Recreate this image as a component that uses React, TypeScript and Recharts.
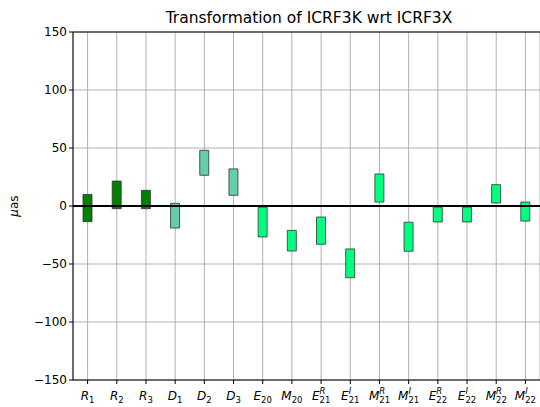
import React from 'react';
import { BarChart, Bar, Cell, XAxis, YAxis, CartesianGrid, ReferenceLine } from 'recharts';

// parameter names: main letter, subscript, superscript
const letters = ['R', 'R', 'R', 'D', 'D', 'D', 'E', 'M', 'E', 'E', 'M', 'M', 'E', 'E', 'M', 'M'];
const subs = ['1', '2', '3', '1', '2', '3', '20', '20', '21', '21', '21', '21', '22', '22', '22', '22'];
const sups = ['', '', '', '', '', '', '', '', 'R', 'I', 'R', 'I', 'R', 'I', 'R', 'I'];

// lower and upper ends of each box (µas)
const lows = [-13.5, -2.3, -2.3, -19, 26.5, 9.2, -26.7, -38.8, -33, -61.8, 3.4, -39, -13.8, -13.8, 2.6, -13];
const highs = [10, 21.5, 13.5, 2.3, 48, 32, -1.1, -21, -9.5, -37, 27.6, -14, -1, -1, 18.4, 3.4];

const colors = ['#008000', '#008000', '#008000', '#66cdaa', '#66cdaa', '#66cdaa',
  '#00ff7f', '#00ff7f', '#00ff7f', '#00ff7f', '#00ff7f', '#00ff7f', '#00ff7f', '#00ff7f', '#00ff7f', '#00ff7f'];

const yTicks = [-150, -100, -50, 0, 50, 100, 150];

const data = letters.map((l, i) => ({ name: String(i), range: [lows[i], highs[i]] }));

const FONT = 'DejaVu Sans, sans-serif';

const mainW: Record<string, number> = { R: 0.695, D: 0.77, E: 0.632, M: 0.863 };
const supW: Record<string, number> = { R: 0.695, I: 0.295, '': 0 };

const XTick = ({ x, y, payload }: any) => {
  const i = Number(payload.value);
  const l = letters[i];
  const sub = subs[i];
  const sup = sups[i];
  const fs = 12;
  const sfs = 8.5;
  const mw = mainW[l] * fs;
  const sw = sub.length * 0.636 * sfs;
  const pw = supW[sup] * sfs;
  const total = mw + Math.max(sw, pw);
  const x0 = x - total / 2;
  const base = y + 14;
  return (
    <g fontFamily={FONT} fill="#000">
      <text x={x0} y={base} fontSize={fs} fontStyle="italic">{l}</text>
      <text x={x0 + mw} y={base + 3} fontSize={sfs}>{sub}</text>
      {sup && <text x={x0 + mw} y={base - 6} fontSize={sfs} fontStyle="italic">{sup}</text>}
    </g>
  );
};

export default function App() {
  return (
    <div style={{ position: 'absolute', left: 0, top: 0, width: 540, height: 407, background: '#fff' }}>
      <BarChart
        width={540}
        height={407}
        data={data}
        margin={{ top: 32, right: 0, left: 0, bottom: 0 }}
        barCategoryGap={0}
      >
        <text x={309} y={23} textAnchor="middle" fontFamily={FONT} fontSize={15.5} fill="#000">
          Transformation of ICRF3K wrt ICRF3X
        </text>
        <text
          x={18}
          y={206}
          textAnchor="middle"
          fontFamily={FONT}
          fontSize={12}
          fill="#000"
          transform="rotate(-90 18 206)"
        >
          <tspan fontStyle="italic">μ</tspan>as
        </text>
        <CartesianGrid stroke="#b0b0b0" strokeWidth={1} />
        <XAxis
          dataKey="name"
          height={27}
          interval={0}
          tick={<XTick />}
          tickSize={4}
          tickLine={{ stroke: '#000' }}
          axisLine={{ stroke: '#000' }}
        />
        <YAxis
          width={73}
          domain={[-150, 150]}
          ticks={yTicks}
          tickFormatter={(v: number) => (v < 0 ? '\u2212' + Math.abs(v) : String(v))}
          tick={{ fill: '#000', fontSize: 12, fontFamily: FONT }}
          tickSize={4}
          tickLine={{ stroke: '#000' }}
          axisLine={{ stroke: '#000' }}
          allowDataOverflow
        />
        <Bar dataKey="range" barSize={9} stroke="#333" strokeOpacity={0.8} strokeWidth={1} isAnimationActive={false}>
          {data.map((d, i) => (
            <Cell key={i} fill={colors[i]} />
          ))}
        </Bar>
        <ReferenceLine y={0} stroke="#000" strokeWidth={2} />
        <ReferenceLine y={150} stroke="#000" strokeWidth={1} />
      </BarChart>
    </div>
  );
}
